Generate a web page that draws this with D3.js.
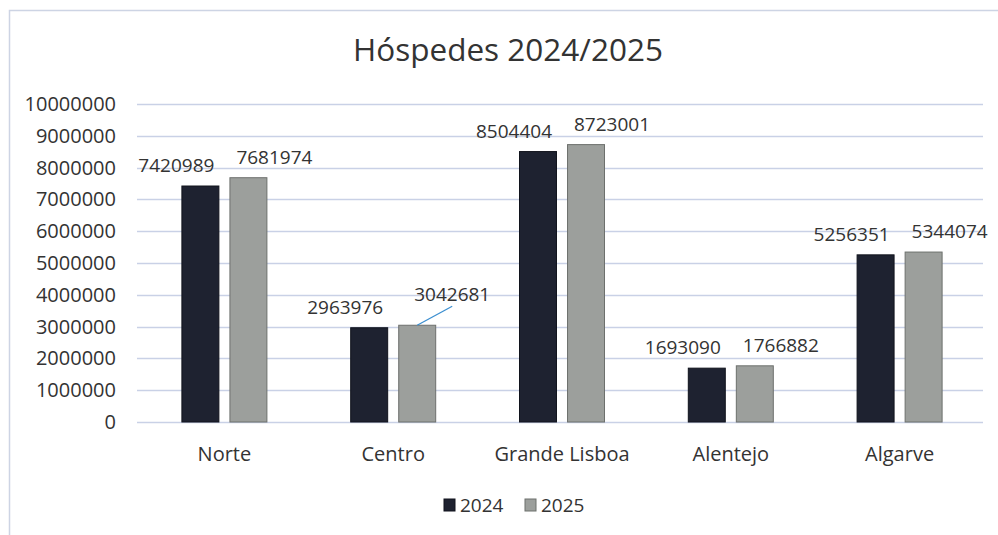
<!DOCTYPE html>
<html>
<head>
<meta charset="utf-8">
<script src="https://cdn.jsdelivr.net/npm/d3@7"></script>
<style>
  body { margin: 0; background: #fff; }
  text { font-family: "Open Sans", "Noto Sans", sans-serif; fill: #333; }
</style>
</head>
<body>
<div id="chart"></div>
<script>
var regions = ["Norte", "Centro", "Grande Lisboa", "Alentejo", "Algarve"];
var years = ["2024", "2025"];
var hospedes2024 = [7420989, 2963976, 8504404, 1693090, 5256351];
var hospedes2025 = [7681974, 3042681, 8723001, 1766882, 5344074];
var yTicks = [0, 1000000, 2000000, 3000000, 4000000, 5000000, 6000000, 7000000, 8000000, 9000000, 10000000];

var width = 998, height = 535;
var colors = { "2024": "#1e2230", "2025": "#9c9f9c" };
var strokes = { "2024": "#10131c", "2025": "#6d706d" };

var svg = d3.select("#chart").append("svg")
    .attr("width", width)
    .attr("height", height);

// outer chart border (only left and top visible in the scan)
svg.append("path")
    .attr("d", "M9.5,535V10.5H998")
    .attr("fill", "none")
    .attr("stroke", "#cdd4e4")
    .attr("stroke-width", 1.5);

var x0 = d3.scaleBand().domain(regions).range([140, 984]);
var x1 = d3.scaleBand().domain(years).range([-42.5, 42.5]).paddingInner(0.23);
var y = d3.scaleLinear().domain([0, 10000000]).range([422, 104]);

var data = regions.map(function(r, i) {
  return { region: r, values: [
    { year: "2024", value: hospedes2024[i] },
    { year: "2025", value: hospedes2025[i] }
  ]};
});

// gridlines
svg.append("g").selectAll("line")
    .data(yTicks)
    .enter().append("line")
    .attr("x1", 137).attr("x2", 983)
    .attr("y1", function(d) { return Math.round(y(d)) + 0.5; })
    .attr("y2", function(d) { return Math.round(y(d)) + 0.5; })
    .attr("stroke", "#c9d1e6")
    .attr("stroke-width", 1.3);

// y axis labels
var yAxis = d3.axisLeft(y).tickValues(yTicks).tickSize(0).tickPadding(0).tickFormat(d3.format("d"));
var yg = svg.append("g").attr("transform", "translate(116,0)").call(yAxis);
yg.select(".domain").remove();
yg.selectAll("text")
    .style("font-size", "20px")
    .style("font-family", "'Open Sans', sans-serif")
    .attr("fill", "#333");

// x axis labels
var xAxis = d3.axisBottom(x0).tickSize(0).tickPadding(0);
var xg = svg.append("g").attr("transform", "translate(0,447)").call(xAxis);
xg.select(".domain").remove();
xg.selectAll("text")
    .style("font-size", "20px")
    .style("font-family", "'Open Sans', sans-serif")
    .attr("fill", "#333");

// bars
var groups = svg.append("g").selectAll("g")
    .data(data)
    .enter().append("g")
    .attr("transform", function(d) { return "translate(" + (x0(d.region) + x0.bandwidth() / 2) + ",0)"; });

groups.selectAll("rect")
    .data(function(d) { return d.values; })
    .enter().append("rect")
    .attr("x", function(d) { return x1(d.year); })
    .attr("y", function(d) { return y(d.value); })
    .attr("width", x1.bandwidth())
    .attr("height", function(d) { return y(0) - y(d.value); })
    .attr("fill", function(d) { return colors[d.year]; })
    .attr("stroke", function(d) { return strokes[d.year]; })
    .attr("stroke-width", 1);

// data labels, pushed outwards as in the original
var labelShift = { "2024": -24, "2025": 26 };
// the Centro 2025 label was dragged away from its bar, with a leader line
var leaderRegion = "Centro", leaderYear = "2025";
function isLeader(region, year) { return region === leaderRegion && year === leaderYear; }

groups.each(function(g) {
  d3.select(this).selectAll("text.val")
      .data(g.values)
      .enter().append("text")
      .attr("class", "val")
      .attr("x", function(d) { return x1(d.year) + x1.bandwidth() / 2 + (isLeader(g.region, d.year) ? 35 : labelShift[d.year]); })
      .attr("y", function(d) { return y(d.value) - (isLeader(g.region, d.year) ? 24 : 14); })
      .attr("text-anchor", "middle")
      .style("font-size", "19px")
      .text(function(d) { return d.value; });
});

var centro = data[regions.indexOf(leaderRegion)].values[years.indexOf(leaderYear)];
var cx = x0(leaderRegion) + x0.bandwidth() / 2 + x1(leaderYear) + x1.bandwidth() / 2;
svg.append("line")
    .attr("x1", cx + 35).attr("y1", y(centro.value) - 19)
    .attr("x2", cx).attr("y2", y(centro.value))
    .attr("stroke", "#3c8fd0")
    .attr("stroke-width", 1.3);

// title
svg.append("text")
    .attr("x", 508).attr("y", 61)
    .attr("text-anchor", "middle")
    .style("font-size", "31.5px")
    .text("Hóspedes 2024/2025");

// legend
var legend = svg.append("g").attr("transform", "translate(444,499)");
var li = legend.selectAll("g")
    .data(years)
    .enter().append("g")
    .attr("transform", function(d, i) { return "translate(" + (i * 81) + ",0)"; });
li.append("rect")
    .attr("width", 11).attr("height", 12)
    .attr("fill", function(d) { return colors[d]; })
    .attr("stroke", function(d) { return strokes[d]; });
li.append("text")
    .attr("x", 16).attr("y", 13)
    .style("font-size", "19px")
    .text(function(d) { return d; });
</script>
</body>
</html>
